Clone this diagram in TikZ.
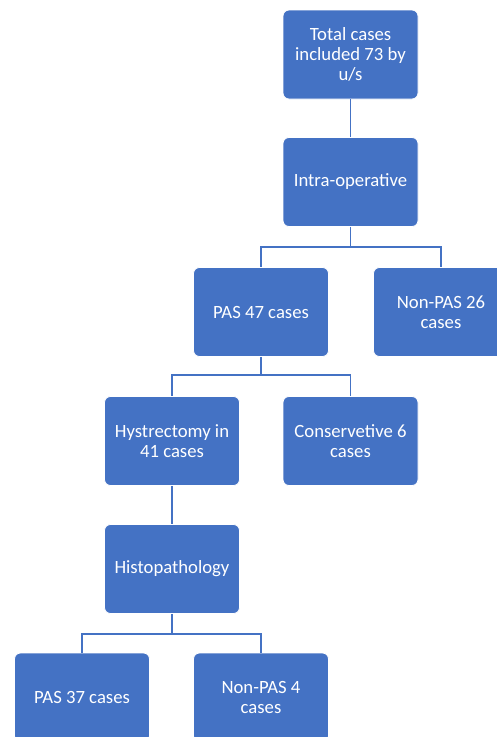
\documentclass[tikz,border=0pt]{standalone}
\usepackage{fontspec}
\setmainfont{Carlito}
\definecolor{boxblue}{HTML}{4472C4}
\begin{document}
\begin{tikzpicture}[x=1pt,y=-1pt,
  box/.style={draw=white, line width=0.8pt, fill=boxblue, rounded corners=6pt,
    minimum width=135pt, minimum height=89pt, text=white, align=center,
    font=\fontsize{18.7}{20}\selectfont, inner sep=0pt},
  link/.style={draw=boxblue, line width=1.6pt}]
\useasboundingbox (0,0) rectangle (497,737);
\clip (0,0) rectangle (497,737);
\node[box] (total) at (350.5,54.5) {Total cases\\included 73 by\\u/s};
\node[box] (intra) at (350.5,182) {Intra-operative};
\node[box] (pas47) at (261,312) {PAS 47 cases};
\node[box] (nonpas26) at (441,312) {Non-PAS 26\\cases};
\node[box] (hyst) at (172,441) {Hystrectomy in\\41 cases};
\node[box] (cons) at (350.5,441) {Conservetive 6\\cases};
\node[box] (histo) at (172,569) {Histopathology};
\node[box] (pas37) at (82,697.5) {PAS 37 cases};
\node[box] (nonpas4) at (261,697.5) {Non-PAS 4\\cases};
\coordinate (b1) at (350.5,247);
\coordinate (b2) at (261,375);
\coordinate (b3) at (172,634);
\draw[link] (total.south) -- (intra.north);
\draw[link] (intra.south) -- (b1) -| (pas47.north);
\draw[link] (b1) -| (nonpas26.north);
\draw[link] (pas47.south) -- (b2) -| (hyst.north);
\draw[link] (b2) -| (cons.north);
\draw[link] (hyst.south) -- (histo.north);
\draw[link] (histo.south) -- (b3) -| (pas37.north);
\draw[link] (b3) -| (nonpas4.north);
\end{tikzpicture}
\end{document}
